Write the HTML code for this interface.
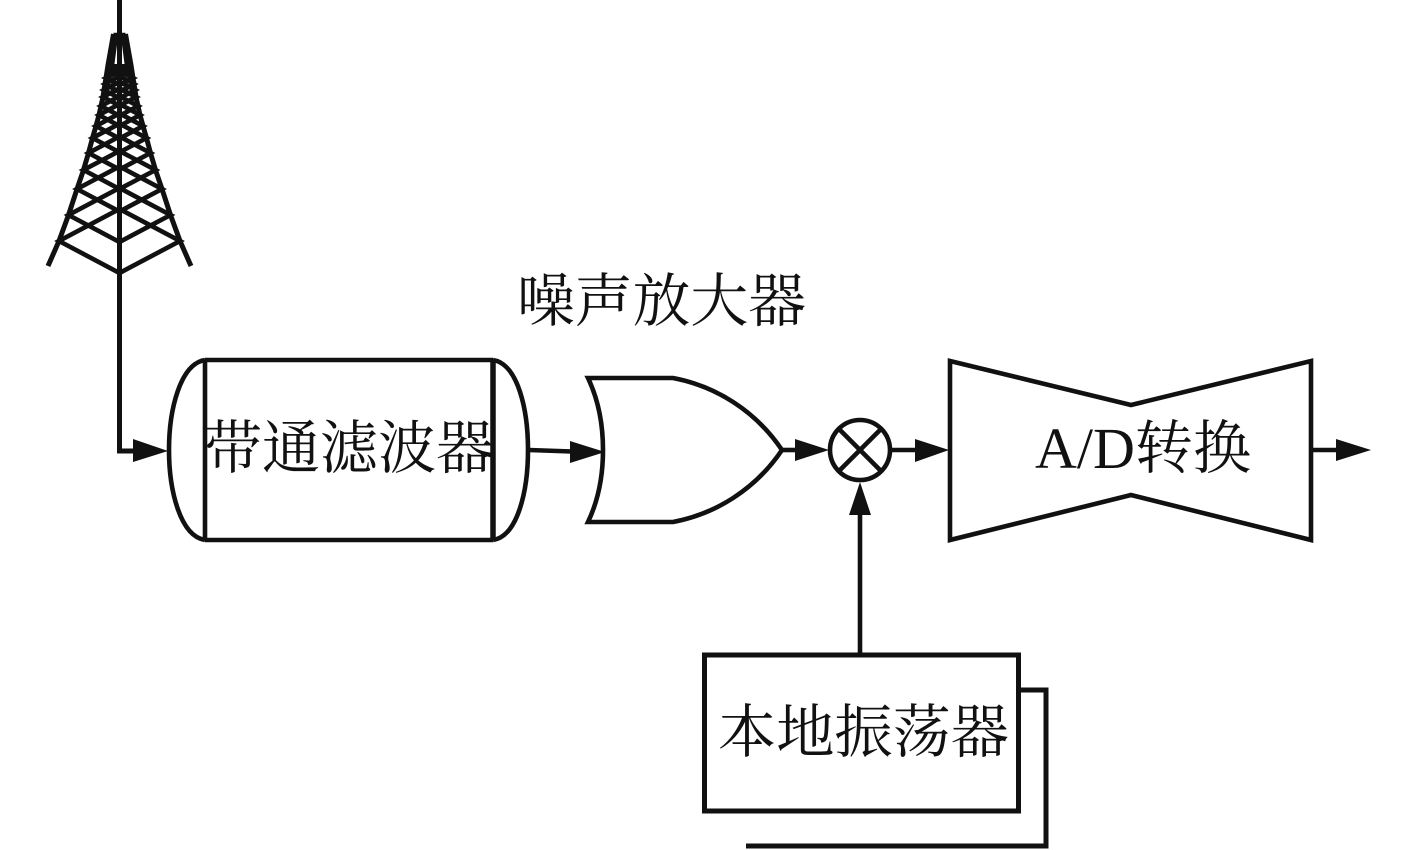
<!DOCTYPE html>
<html>
<head>
<meta charset="utf-8">
<style>
html,body{margin:0;padding:0;background:#fff;}
svg{display:block;}
text{font-family:"Liberation Serif","Noto Serif CJK SC",serif;font-size:58px;fill:#111;}
</style>
</head>
<body>
<svg width="1417" height="850" viewBox="0 0 1417 850" xmlns="http://www.w3.org/2000/svg">
<g fill="none" stroke="#111" stroke-width="4.6">
  <!-- Tower -->
  <path d="M119.500 0V451H135" stroke-width="5"/>
  <g stroke-width="5">
  <polyline points="48,266 59,241 68.5,215 77,189 83.5,170 88.5,153 92.5,138 96,126 99,115 101,106 103,97 104,90 105,84 106,78 108,65 113.5,34"/>
  <polyline points="191,266 180,241 170.5,215 162,189 155.5,170 150.5,153 146.5,138 143,126 140,115 138,106 136,97 135,90 134,84 133,78 131,65 125.5,34"/>
  </g>
  <path d="M113.500 35H125.500M116 35L112 65M123 35L127 65"/>
  <polygon points="59,241 119.5,273 180,241 119.5,209"/>
  <polygon points="68.5,215 119.5,242 170.5,215 119.5,188"/>
  <polygon points="77,189 119.5,211.5 162,189 119.5,166.5"/>
  <polygon points="83.5,170 119.5,189 155.5,170 119.5,151"/>
  <polygon points="88.5,153 119.5,169.5 150.5,153 119.5,136.5"/>
  <polygon points="92.5,138 119.5,152.3 146.5,138 119.5,123.7"/>
  <polygon points="96,126 119.5,138.5 143,126 119.5,113.5"/>
  <polygon points="99,115 119.5,126 140,115 119.5,104"/>
  <polygon points="101,106 119.5,115.8 138,106 119.5,96.2"/>
  <polygon points="103,97 119.5,105.7 136,97 119.5,88.3"/>
  <polygon points="104,90 119.5,98.2 135,90 119.5,81.8"/>
  <polygon points="105,84 119.5,92 134,84 119.5,76"/>
  <polygon points="106,78 119.5,85 133,78 119.5,71"/>
  <rect x="107" y="64" width="25" height="12" fill="#111" stroke="none"/>

  <!-- Band-pass filter -->
  <path d="M205 360H493M205 540H493M205 360V540"/>
  <path d="M493 360V540" stroke-width="5.500"/>
  <path d="M205 360C180 364 169 410 169 450C169 490 180 536 205 540"/>
  <path d="M493 360C518 364 528 410 528 450C528 490 518 536 493 540"/>
  <path d="M529 450L572 451.500"/>

  <!-- OR gate -->
  <path d="M588 378H673C715 386 755 410 782 450C755 490 715 514 673 522H588C608 480 608 420 588 378Z"/>
  <path d="M782 450H796"/>

  <!-- Mixer -->
  <circle cx="860" cy="450" r="30"/>
  <path d="M839 429L881 471M881 429L839 471"/>
  <path d="M890 450H916"/>
  <path d="M860 515V654"/>

  <!-- A/D -->
  <polygon points="950,361 1131,405 1311,361 1311,540 1131,495 950,540"/>
  <path d="M1311 450H1337"/>

  <!-- Oscillator -->
  <rect x="704.500" y="655" width="314" height="156" stroke-width="5"/>
  <path d="M1019 690H1046V846H746" stroke-width="5"/>
</g>

<g fill="#111">
  <polygon points="133,439 168,451 133,462"/>
  <polygon points="570,441 605,452 570,463"/>
  <polygon points="795,439 829,450 795,461"/>
  <polygon points="915,439 949,450 915,462"/>
  <polygon points="860,482 849,515 871,515"/>
  <polygon points="1336,439 1371,450 1336,461"/>
</g>

<text x="517" y="321" textLength="289" lengthAdjust="spacingAndGlyphs">噪声放大器</text>
<text x="204" y="468" textLength="290" lengthAdjust="spacingAndGlyphs">带通滤波器</text>
<text x="1035" y="468" textLength="216" lengthAdjust="spacingAndGlyphs">A/D转换</text>
<text x="718" y="752" textLength="291" lengthAdjust="spacingAndGlyphs">本地振荡器</text>
</svg>
</body>
</html>
